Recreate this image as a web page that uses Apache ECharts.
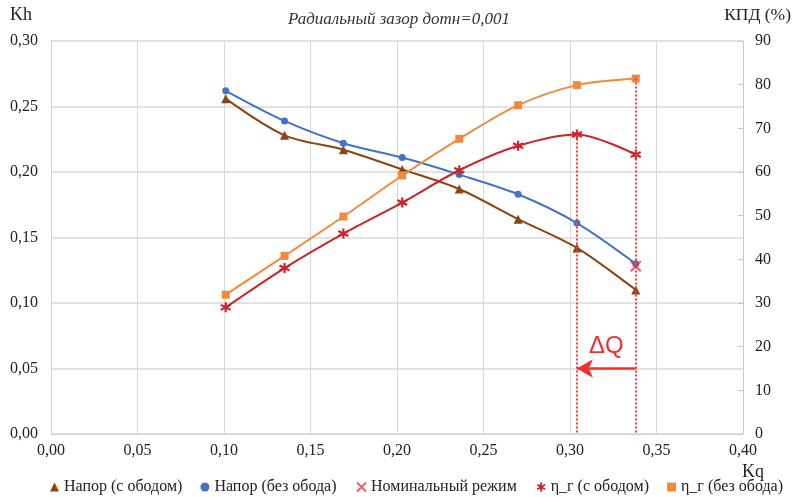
<!DOCTYPE html>
<html>
<head>
<meta charset="utf-8">
<script src="https://cdn.jsdelivr.net/npm/echarts@6/dist/echarts.min.js"></script>
<style>
  html, body { margin: 0; padding: 0; background: #fff; }
  #chart { width: 798px; height: 497px; }
</style>
</head>
<body>
<div id="chart"></div>
<script>
// Kq по оси X
const kq = [0.101, 0.135, 0.169, 0.203, 0.236, 0.270, 0.304, 0.338]
// Kh, левая ось
const headRim = [0.256, 0.228, 0.217, 0.202, 0.187, 0.164, 0.142, 0.110]
const headNoRim = [0.262, 0.239, 0.222, 0.211, 0.198, 0.183, 0.161, 0.130]
// КПД, правая ось (%)
const etaRim = [29.0, 38.0, 45.9, 53.0, 60.4, 66.0, 68.6, 64.0]
const etaNoRim = [31.9, 40.8, 49.8, 59.2, 67.6, 75.3, 79.9, 81.4]
// номинальный режим
const nominal = [[0.338, 0.128]]

const names = ["Напор (с ободом)", "Напор (без обода)", "Номинальный режим", "η_г (с ободом)", "η_г (без обода)"]

const serif = "Liberation Serif"
const starPath = "path://M5,0 L5,10 M0.7,2.5 L9.3,7.5 M0.7,7.5 L9.3,2.5"
const crossPath = "path://M0,0 L10,10 M0,10 L10,0"

function comma(v) {
    return v.toFixed(2).replace(".", ",")
}

let chart = echarts.init(document.getElementById("chart"))

let pairs = function (ys) {
    return kq.map(function (x, i) { return [x, ys[i]] })
}

let option = {
    animation: false,
    textStyle: { fontFamily: serif },
    grid: { left: 51, right: 55, top: 41, bottom: 63 },
    title: {
        text: "Радиальный зазор дотн=0,001",
        left: "center",
        top: 6,
        textStyle: { fontFamily: serif, fontStyle: "italic", fontWeight: "normal", fontSize: 17, color: "#333" }
    },
    legend: {
        bottom: -3,
        left: 45,
        itemWidth: 9,
        itemHeight: 9,
        itemGap: 18,
        textStyle: { fontFamily: serif, fontSize: 16, color: "#222" },
        data: [
            { name: names[0], icon: "triangle" },
            { name: names[1], icon: "circle" },
            { name: names[2], icon: crossPath, itemStyle: { color: "none", borderColor: "#e8383d", borderWidth: 2 } },
            { name: names[3], icon: starPath, itemStyle: { color: "none", borderColor: "#c9262c", borderWidth: 2 } },
            { name: names[4], icon: "rect" }
        ]
    },
    xAxis: {
        type: "value",
        min: 0, max: 0.4, interval: 0.05,
        axisLine: { lineStyle: { color: "#d0d0d0" } },
        axisTick: { show: false },
        axisLabel: { formatter: comma, fontSize: 16, color: "#222", margin: 9 },
        splitLine: { lineStyle: { color: "#d9d9d9" } }
    },
    yAxis: [
        {
            type: "value",
            min: 0, max: 0.3, interval: 0.05,
            axisLine: { show: true, lineStyle: { color: "#d0d0d0" } },
            axisTick: { show: false },
            axisLabel: { formatter: comma, fontSize: 16, color: "#222", margin: 13 },
            splitLine: { lineStyle: { color: "#d9d9d9", width: 1.5 } }
        },
        {
            type: "value",
            min: 0, max: 90, interval: 10,
            position: "right",
            axisLine: { show: true, lineStyle: { color: "#c8c8c8" } },
            axisTick: { show: true, inside: true, length: 5, lineStyle: { color: "#c8c8c8" } },
            axisLabel: { fontSize: 16, color: "#222", margin: 12 },
            splitLine: { show: false }
        }
    ],
    graphic: [
        { type: "text", left: 10, top: 6, style: { text: "Kh", font: "18px " + serif, fill: "#222" } },
        { type: "text", right: 7, top: 6, style: { text: "КПД (%)", font: "17.5px " + serif, fill: "#222" } },
        { type: "text", left: 742, top: 463, style: { text: "Kq", font: "18px " + serif, fill: "#222" } }
    ],
    series: [
        {
            name: names[0],
            type: "line",
            smooth: 0.3,
            data: pairs(headRim),
            symbol: "triangle",
            symbolSize: 9,
            itemStyle: { color: "#8b4513" },
            lineStyle: { color: "#8b4513", width: 2 },
            markLine: {
                silent: true,
                symbol: ["none", "arrow"],
                symbolSize: [14, 16],
                lineStyle: { color: "#f03030", width: 2.5, type: "solid" },
                label: { show: true, position: "middle", formatter: "ΔQ", color: "#f03030", fontSize: 24, fontFamily: "Liberation Sans", distance: 10 },
                data: [[{ coord: [kq[7], 0.05] }, { coord: [kq[6], 0.05] }]]
            }
        },
        {
            name: names[1],
            type: "line",
            smooth: 0.3,
            data: pairs(headNoRim),
            symbol: "circle",
            symbolSize: 7,
            itemStyle: { color: "#4472c4" },
            lineStyle: { color: "#4472c4", width: 2 }
        },
        {
            name: names[2],
            type: "scatter",
            data: nominal,
            symbol: crossPath,
            symbolSize: 10,
            itemStyle: { color: "none", borderColor: "#e8383d", borderWidth: 2 },
            z: 5
        },
        {
            name: names[3],
            type: "line",
            yAxisIndex: 1,
            smooth: 0.3,
            data: pairs(etaRim),
            symbol: starPath,
            symbolSize: 10,
            itemStyle: { color: "none", borderColor: "#c9262c", borderWidth: 2.2 },
            lineStyle: { color: "#c9262c", width: 2 },
            markLine: {
                silent: true,
                symbol: "none",
                label: { show: false },
                lineStyle: { color: "#ff3b3b", width: 2, type: "dotted" },
                data: [[{ coord: [kq[6], etaRim[6]] }, { coord: [kq[6], 0] }]]
            }
        },
        {
            name: names[4],
            type: "line",
            yAxisIndex: 1,
            smooth: 0.3,
            data: pairs(etaNoRim),
            symbol: "rect",
            symbolSize: 8,
            itemStyle: { color: "#f08a3c" },
            lineStyle: { color: "#f08a3c", width: 2 },
            markLine: {
                silent: true,
                symbol: "none",
                label: { show: false },
                lineStyle: { color: "#ff3b3b", width: 2, type: "dotted" },
                data: [[{ coord: [kq[7], etaNoRim[7]] }, { coord: [kq[7], 0] }]]
            }
        }
    ]
}

chart.setOption(option)
</script>
</body>
</html>
